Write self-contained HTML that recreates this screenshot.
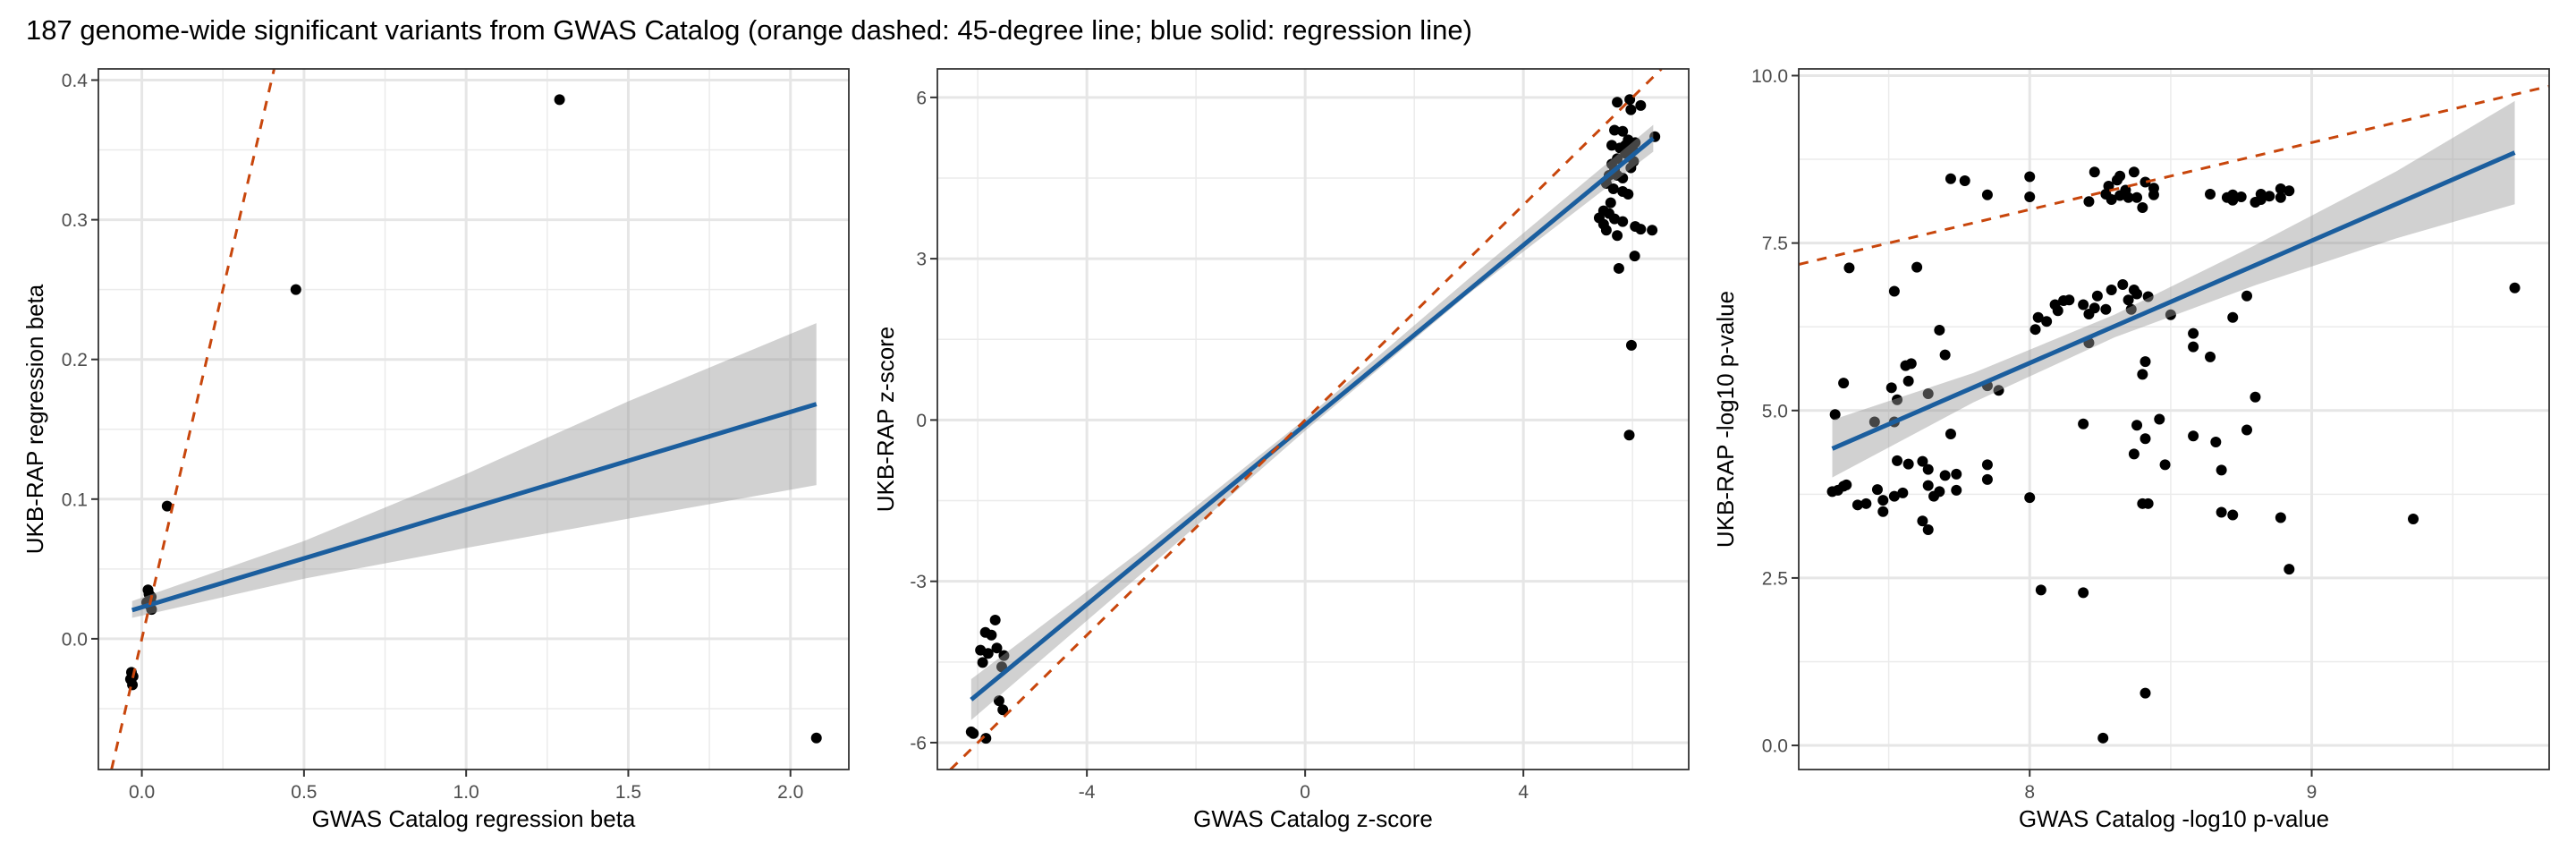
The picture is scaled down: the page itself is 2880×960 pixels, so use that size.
<!DOCTYPE html>
<html><head><meta charset="utf-8"><style>
html,body{margin:0;padding:0;background:#fff;width:2880px;height:960px;overflow:hidden;}
svg{display:block;font-family:"Liberation Sans",Arial,sans-serif;}
</style></head><body>
<svg id="chart" width="2880" height="960" viewBox="0 0 2880 960" xmlns="http://www.w3.org/2000/svg">
<text x="29" y="44" font-size="31" fill="#000">187 genome-wide significant variants from GWAS Catalog (orange dashed: 45-degree line; blue solid: regression line)</text>
</svg>
<script>
// ---------- Panel 1: beta ----------
const betaGwas = [1.288,0.475,0.078,2.08,0.019,0.022,0.027,0.024,0.030,0.015,0.029,-0.032,-0.027,-0.029,-0.035];
const betaUkb  = [0.386,0.250,0.095,-0.071,0.035,0.032,0.028,0.024,0.021,0.026,0.030,-0.024,-0.027,-0.033,-0.029];
const betaFitX = [-0.03,2.08];
const betaFitY = [0.0205,0.168];
const betaBandX = [-0.03,0.5,1.0,1.5,2.08];
const betaBandLo = [0.015,0.043,0.065,0.086,0.110];
const betaBandHi = [0.027,0.070,0.118,0.170,0.226];
const betaXTicks = [0,0.5,1.0,1.5,2.0];
const betaXTickLabels = ["0.0","0.5","1.0","1.5","2.0"];
const betaYTicks = [0,0.1,0.2,0.3,0.4];
const betaYTickLabels = ["0.0","0.1","0.2","0.3","0.4"];

// ---------- Panel 2: z-score ----------
const zGwas = [-5.68,-5.86,-5.75,-5.95,-5.81,-5.65,-5.52,-5.91,-5.56,-5.61,-5.54,-6.12,-6.08,-5.85,
 5.72,5.95,6.15,5.97,5.67,6.41,5.62,5.77,5.92,6.05,5.87,5.72,6.02,5.62,5.97,5.57,5.72,5.52,5.65,5.82,5.92,5.60,5.47,5.57,5.39,5.67,5.82,5.47,5.52,5.72,6.05,6.15,6.36,6.04,5.75,5.98,5.94,5.82,5.87,6.00,5.67,5.82];
const zUkb = [-3.72,-3.95,-4.00,-4.28,-4.34,-4.24,-4.38,-4.51,-4.59,-5.22,-5.39,-5.80,-5.83,-5.92,
 5.91,5.96,5.85,5.77,5.39,5.27,5.11,5.06,5.21,5.16,4.96,4.86,4.81,4.76,4.69,4.55,4.55,4.40,4.30,4.25,4.20,4.04,3.89,3.84,3.76,3.74,3.69,3.64,3.53,3.43,3.60,3.55,3.53,3.05,2.82,1.39,-0.28,5.37,5.11,5.04,4.65,4.50];
const zFitX = [-6.12,6.38];
const zFitY = [-5.20,5.24];
const zBandX = [-6.12,-3,0,3,6.38];
const zBandLo = [-5.58,-2.86,-0.20,2.35,4.99];
const zBandHi = [-4.82,-2.42,0.02,2.63,5.49];
const zXTicks = [-4,0,4];
const zXTickLabels = ["-4","0","4"];
const zYTicks = [-6,-3,0,3,6];
const zYTickLabels = ["-6","-3","0","3","6"];

// ---------- Panel 3: -log10 p ----------
const pGwas = [7.31,7.34,7.36,7.30,7.32,7.34,7.35,7.39,7.42,7.46,7.45,7.48,7.48,7.51,7.52,7.52,7.52,7.53,7.53,7.55,7.56,7.57,7.57,7.58,7.60,7.62,7.62,7.64,7.64,7.64,7.64,7.66,7.68,7.68,7.70,7.70,7.72,7.72,7.74,7.74,7.77,7.85,7.85,7.85,7.85,7.89,8.00,8.00,8.00,8.02,8.03,8.04,8.06,8.09,8.10,8.12,8.14,8.19,8.19,8.19,8.21,8.21,8.21,8.23,8.23,8.24,8.26,8.27,8.27,8.28,8.29,8.29,8.31,8.32,8.32,8.33,8.34,8.35,8.35,8.36,8.37,8.37,8.37,8.38,8.38,8.38,8.40,8.40,8.40,8.41,8.41,8.41,8.41,8.42,8.42,8.44,8.44,8.46,8.48,8.50,8.58,8.58,8.58,8.64,8.64,8.66,8.68,8.68,8.70,8.72,8.72,8.72,8.72,8.75,8.77,8.77,8.80,8.80,8.82,8.82,8.85,8.89,8.89,8.89,8.92,8.92,9.36,9.72];
const pUkb = [4.94,5.41,7.13,3.79,3.81,3.87,3.89,3.59,3.61,3.82,4.83,3.66,3.49,5.34,3.72,6.78,4.83,5.16,4.25,3.77,5.67,5.44,4.20,5.70,7.14,4.24,3.35,5.25,4.12,3.88,3.22,3.72,6.20,3.79,5.83,4.03,8.46,4.65,4.05,3.81,8.43,8.22,4.19,3.97,5.37,5.30,8.49,8.19,3.70,6.21,6.39,2.32,6.33,6.58,6.49,6.64,6.65,6.58,4.80,2.28,8.12,6.01,6.44,8.56,6.53,6.71,0.11,6.51,8.23,8.35,8.15,6.80,8.44,8.21,8.50,6.88,8.29,6.65,8.18,6.51,8.56,4.35,6.80,4.78,6.74,8.18,8.03,5.54,3.61,0.78,8.41,5.73,4.58,3.61,6.70,8.22,8.32,4.87,4.19,6.43,6.15,5.95,4.62,8.23,5.80,4.53,4.11,3.48,8.18,8.14,8.22,6.39,3.44,8.19,6.71,4.71,8.11,5.20,8.23,8.15,8.20,8.31,8.18,3.40,8.28,2.63,3.38,6.83];
const pFitX = [7.30,9.72];
const pFitY = [4.43,8.85];
const pBandX = [7.30,7.8,8.3,8.8,9.3,9.72];
const pBandLo = [4.00,5.12,6.09,6.87,7.57,8.08];
const pBandHi = [4.86,5.56,6.43,7.47,8.57,9.62];
const pXTicks = [8,9];
const pXTickLabels = ["8","9"];
const pYTicks = [0,2.5,5,7.5,10];
const pYTickLabels = ["0.0","2.5","5.0","7.5","10.0"];

const NS = "http://www.w3.org/2000/svg";
const svg = document.getElementById("chart");
function mk(tag, attrs, parent){
  const e = document.createElementNS(NS, tag);
  for (const k in attrs) e.setAttribute(k, attrs[k]);
  (parent||svg).appendChild(e);
  return e;
}

function panel(cfg){
  const {L,R,T,B,xmin,xmax,ymin,ymax} = cfg;
  const sx = v => L + (v - xmin) / (xmax - xmin) * (R - L);
  const sy = v => B - (v - ymin) / (ymax - ymin) * (B - T);
  const g = mk("g", {});
  
  
  mk("defs", {}, g).innerHTML = `<clipPath id="clip-${cfg.name}"><rect x="${L}" y="${T}" width="${R-L}" height="${B-T}"/></clipPath>`;
  cfg.xMinor.forEach(v => { if (v > xmin && v < xmax) { const l = mk("line", {x1:sx(v),x2:sx(v),y1:T,y2:B,stroke:"#ebebeb","stroke-width":1.5}, g);
      }});
  cfg.yMinor.forEach(v => { if (v > ymin && v < ymax) { const l = mk("line", {x1:L,x2:R,y1:sy(v),y2:sy(v),stroke:"#ebebeb","stroke-width":1.5}, g);
      }});
  cfg.xTicks.forEach(v => { const l = mk("line", {x1:sx(v),x2:sx(v),y1:T,y2:B,stroke:"#e6e6e6","stroke-width":3}, g);
      });
  cfg.yTicks.forEach(v => { const l = mk("line", {x1:L,x2:R,y1:sy(v),y2:sy(v),stroke:"#e6e6e6","stroke-width":3}, g);
      });
  const plot = mk("g", {"clip-path":`url(#clip-${cfg.name})`}, g);
  cfg.xs.forEach((x,i) => {
    const c = mk("circle", {cx:sx(x), cy:sy(cfg.ys[i]), r:6, fill:"#000"}, plot);
    
    
  });
  let d = cfg.bandX.map((x,i)=>(i?"L":"M")+sx(x)+","+sy(cfg.bandHi[i])).join(" ");
  for (let i = cfg.bandX.length-1; i >= 0; i--) d += " L"+sx(cfg.bandX[i])+","+sy(cfg.bandLo[i]);
  const band = mk("path", {d:d+" Z", fill:"#999999","fill-opacity":0.45}, plot);
  
  
  const reg = mk("line", {x1:sx(cfg.fitX[0]),y1:sy(cfg.fitY[0]),x2:sx(cfg.fitX[1]),y2:sy(cfg.fitY[1]),stroke:"#1b5e9e","stroke-width":5}, plot);
  
  
  const lo = Math.max(xmin,ymin), hi = Math.min(xmax,ymax);
  const diag = mk("line", {x1:sx(lo),y1:sy(lo),x2:sx(hi),y2:sy(hi),stroke:"#c8460c","stroke-width":3,"stroke-dasharray":"11 10"}, plot);
  
  
  const br = mk("rect", {x:L,y:T,width:R-L,height:B-T,fill:"none",stroke:"#333","stroke-width":1.8}, g);
  
  
  cfg.xTicks.forEach((v,i) => {
    mk("line", {x1:sx(v),x2:sx(v),y1:B,y2:B+8,stroke:"#333","stroke-width":2}, g);
    const t = mk("text", {x:sx(v), y:B+32, "text-anchor":"middle","font-size":21, fill:"#4d4d4d"}, g);
    t.textContent = cfg.xLabels[i];
    
    
  });
  cfg.yTicks.forEach((v,i) => {
    mk("line", {x1:L-8,x2:L,y1:sy(v),y2:sy(v),stroke:"#333","stroke-width":2}, g);
    const t = mk("text", {x:L-12, y:sy(v)+7.5, "text-anchor":"end","font-size":21, fill:"#4d4d4d"}, g);
    t.textContent = cfg.yLabels[i];
    
    
  });
  const xt = mk("text", {x:(L+R)/2, y:924, "text-anchor":"middle","font-size":26, fill:"#000"}, g);
  xt.textContent = cfg.xTitle;
  
  
  const yc = (T+B)/2;
  const yt = mk("text", {x:cfg.yTitleX, y:yc, "text-anchor":"middle","font-size":26, fill:"#000", transform:`rotate(-90 ${cfg.yTitleX} ${yc})`}, g);
  yt.textContent = cfg.yTitle;
  
  
}

panel({name:"beta", L:110, R:949, T:77, B:860, xmin:-0.134, xmax:2.18, ymin:-0.0936, ymax:0.408,
  xs:betaGwas, ys:betaUkb, fitX:betaFitX, fitY:betaFitY, bandX:betaBandX, bandLo:betaBandLo, bandHi:betaBandHi,
  xTicks:betaXTicks, xLabels:betaXTickLabels, yTicks:betaYTicks, yLabels:betaYTickLabels,
  xMinor:[-0.25,0.25,0.75,1.25,1.75], yMinor:[-0.05,0.05,0.15,0.25,0.35],
  xTitle:"GWAS Catalog regression beta", yTitle:"UKB-RAP regression beta", yTitleX:48});

panel({name:"zscore", L:1048, R:1888, T:77, B:860, xmin:-6.74, xmax:7.03, ymin:-6.5, ymax:6.53,
  xs:zGwas, ys:zUkb, fitX:zFitX, fitY:zFitY, bandX:zBandX, bandLo:zBandLo, bandHi:zBandHi,
  xTicks:zXTicks, xLabels:zXTickLabels, yTicks:zYTicks, yLabels:zYTickLabels,
  xMinor:[-6,-2,2,6], yMinor:[-4.5,-1.5,1.5,4.5],
  xTitle:"GWAS Catalog z-score", yTitle:"UKB-RAP z-score", yTitleX:999});

panel({name:"pvalue", L:2011, R:2850, T:77, B:860, xmin:7.181, xmax:9.842, ymin:-0.36, ymax:10.1,
  xs:pGwas, ys:pUkb, fitX:pFitX, fitY:pFitY, bandX:pBandX, bandLo:pBandLo, bandHi:pBandHi,
  xTicks:pXTicks, xLabels:pXTickLabels, yTicks:pYTicks, yLabels:pYTickLabels,
  xMinor:[7.5,8.5,9.5], yMinor:[1.25,3.75,6.25,8.75],
  xTitle:"GWAS Catalog -log10 p-value", yTitle:"UKB-RAP -log10 p-value", yTitleX:1938});
</script>
</body></html>
